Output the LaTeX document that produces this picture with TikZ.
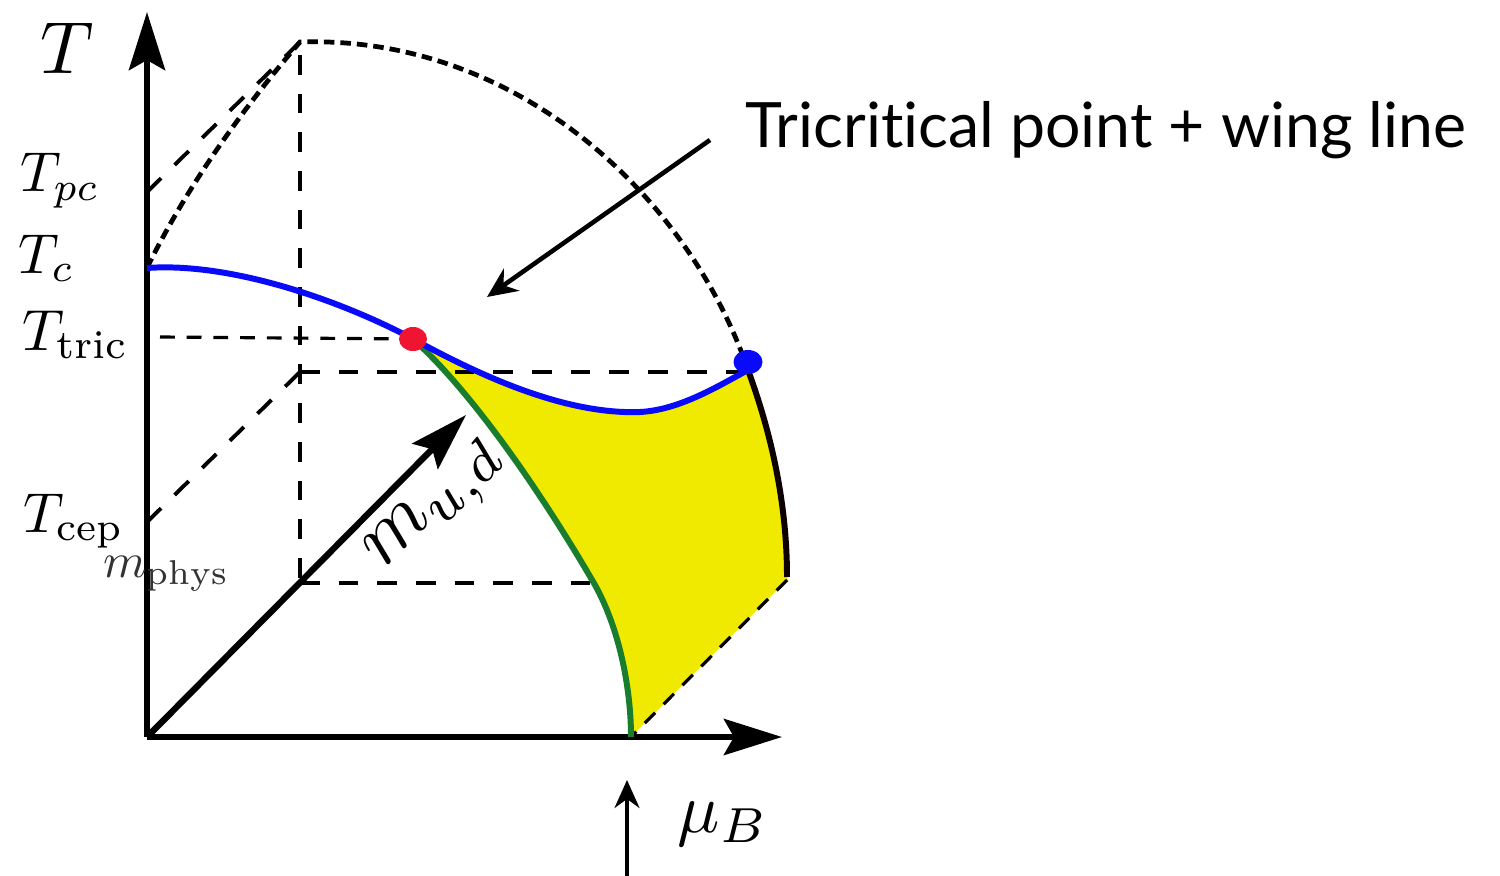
\documentclass[tikz,border=0pt]{standalone}
\usepackage{fontspec}
\newfontfamily\notefont[Ligatures=NoCommon]{Lato}
\usetikzlibrary{arrows.meta,shapes.geometric}
\definecolor{cblue}{RGB}{10,10,250}
\definecolor{cgreen}{RGB}{25,125,45}
\definecolor{cyellow}{RGB}{240,234,0}
\definecolor{cred}{RGB}{238,20,50}
\begin{document}
\begin{tikzpicture}[x=0.01cm,y=-0.01cm,
  axis/.style={line width=1.8pt,-{Stealth[length=0.58cm,width=0.36cm,inset=0.1cm]}},
  boxline/.style={line width=1.1pt,dash pattern=on 5.6pt off 5.4pt},
  guide/.style={line width=0.9pt,dash pattern=on 4.2pt off 3.4pt},
  dotline/.style={line width=1.35pt,dash pattern=on 3pt off 1.7pt},
  thick line/.style={line width=1.7pt},
  lab/.style={inner sep=0pt,anchor=base west},
  dotmark/.style={ellipse,inner sep=0pt,minimum width=0.28cm,minimum height=0.24cm,draw=none}]
\useasboundingbox (0,0) rectangle (1500,876);
% key points
\coordinate (O) at (147,737);
\coordinate (Ttop) at (147,12);
\coordinate (Mend) at (782,737);
\coordinate (Dtip) at (466,415);
\coordinate (Tc) at (147,268);
\coordinate (Tpc) at (147,192);
\coordinate (Tcep) at (147,522);
\coordinate (Top) at (300,42);
\coordinate (TopV) at (300,55);
\coordinate (Bk) at (300,372);
\coordinate (BkE) at (745,372);
\coordinate (Bm) at (300,583);
\coordinate (BmE) at (595,583);
\coordinate (TricL) at (160,337);
\coordinate (Tri) at (413,339);
\coordinate (G1) at (595,585);
\coordinate (Wing) at (748,370);
\coordinate (Wend) at (787,577);
\coordinate (Wdash) at (787,580);
\coordinate (Gend) at (631,737);
\coordinate (B2) at (640,412);
% yellow region
\fill[cyellow] (Tri) .. controls (470,390) and (540,490) .. (G1)
  .. controls (620,630) and (631,690) .. (Gend) -- (Wdash) -- (Wend)
  .. controls (787,500) and (770,430) .. (Wing)
  .. controls (720,385) and (680,410) .. (B2)
  .. controls (560,415) and (470,370) .. (Tri) -- cycle;
% guide lines
\draw[boxline] (Tpc) -- (Top);
\draw[boxline] (TopV) -- (Bm);
\draw[boxline] (Bm) -- (BmE);
\draw[boxline] (Tcep) -- (Bk);
\draw[boxline] (Bk) -- (BkE);
\draw[guide] (TricL) -- (Tri);
\draw[guide] (Wdash) -- (Gend);
% dotted boundary
\draw[dotline] (Tc) .. controls (190,180) and (250,100) .. (Top)
  .. controls (520,35) and (690,200) .. (Wing);
% axes
\draw[axis] (O) -- (Ttop);
\draw[axis] (O) -- (Mend);
\draw[axis] (O) -- (Dtip);
% curves
\draw[thick line,cgreen] (Tri) .. controls (470,390) and (540,490) .. (G1)
  .. controls (620,630) and (631,690) .. (Gend);
\draw[thick line,black!95!red] (Wing) .. controls (770,430) and (787,500) .. (Wend);
\draw[thick line,cblue] (Tc) .. controls (230,262) and (340,300) .. (Tri)
  .. controls (470,370) and (560,415) .. (B2)
  .. controls (680,410) and (720,385) .. (Wing);
\node[dotmark,fill=cred] (tric) at (Tri) {};
\node[dotmark,fill=cblue,minimum width=0.29cm,minimum height=0.24cm] (wing) at (748,362) {};
% labels
\node (lT) at (67,48) {\scalebox{2.1}{$T$}};
\node[lab] (lTpc) at (20,192) {\scalebox{1.6}{$T_{pc}$}};
\node[lab] (lTc) at (18,273) {\scalebox{1.6}{$T_{c}$}};
\node[lab] (lTtric) at (22,350) {\scalebox{1.65}{$T_{\mathrm{tric}}$}};
\node[lab] (lTcep) at (23,532) {\scalebox{1.6}{$T_{\mathrm{cep}}$}};
\node[lab,text=black!80] (lmphys) at (103,577) {\scalebox{1.4}{$m_{\mathrm{phys}}$}};
\node[lab] (lmu) at (677,832) {\scalebox{2.0}{$\mu_B$}};
\node[rotate=45] (lmud) at (438,507) {\scalebox{2.3}{$m_{u,d}$}};
\node[inner sep=0pt,anchor=base west] (note) at (745,147)
  {\resizebox{7.2cm}{!}{\notefont\fontsize{18}{22}\selectfont Tricritical point + wing line}};
% pointer arrows
\coordinate (aS) at (710,140);
\coordinate (aT) at (487,297);
\draw[line width=1.3pt,-{Stealth[length=0.3cm,width=0.27cm]}] (aS) -- (aT);
\coordinate (uS) at (627,876);
\coordinate (uT) at (627,780);
\draw[line width=1pt,-{Stealth[length=0.28cm,width=0.25cm]}] (uS) -- (uT);
\end{tikzpicture}
\end{document}
